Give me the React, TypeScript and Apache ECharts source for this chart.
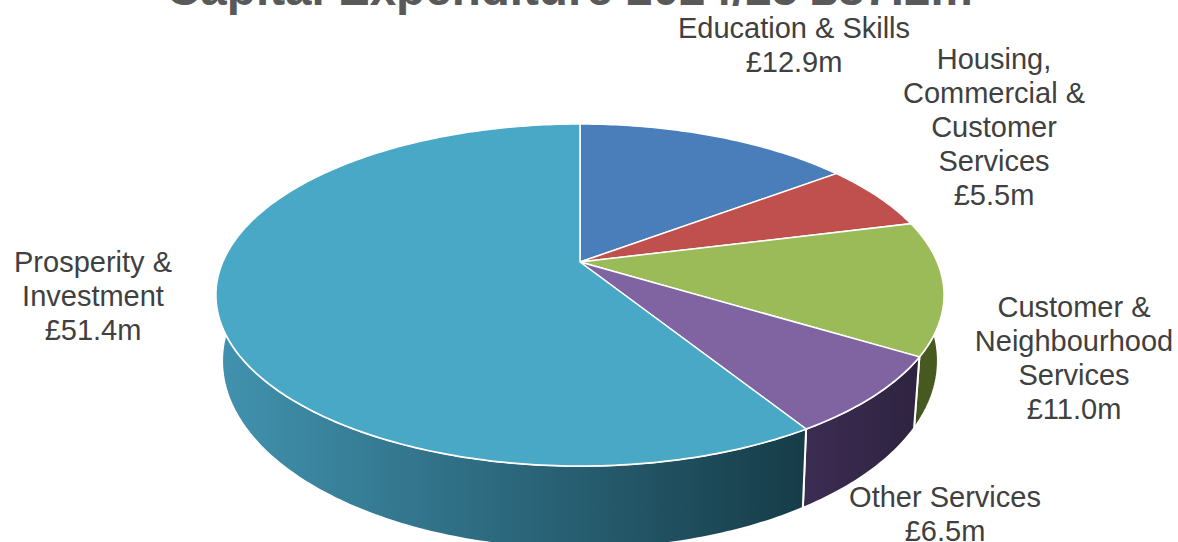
import React, { useEffect, useRef } from "react";
import * as echarts from "echarts";

const titleText = "Capital Expenditure 2024/25 £87.2m";
const categories = [
  "Education & Skills",
  "Housing,\nCommercial &\nCustomer\nServices",
  "Customer &\nNeighbourhood\nServices",
  "Other Services",
  "Prosperity &\nInvestment",
];
const values = [12.9, 5.5, 11.0, 6.5, 51.4];

const topColors = ["#4A7EBB", "#C0504D", "#9BBB59", "#8064A2", "#48A8C6"];
const sideStops: [string, string][] = [
  ["#2C4A70", "#2C4A70"],
  ["#722F2D", "#722F2D"],
  ["#46591F", "#333F18"],
  ["#3C2C52", "#2E2340"],
  ["#4192AF", "#163C48"],
];
const labelCenters = [
  [794, 45],
  [994, 127],
  [1074, 358],
  [945, 514],
  [93, 296],
];

// Perspective of the two faces of the disc: centre, half axes, foreshortening.
const topFace = { cx: 580, cy: 262, a: 357.2, b: 164.6, p: 0.193 };
const baseFace = { cx: 580, cy: 324, a: 351, b: 180.8, p: 0.196 };
type Face = typeof topFace;

const total = values.reduce((s, v) => s + v, 0);
const startFractions = values.map((_, i) =>
  values.slice(0, i).reduce((s, v) => s + v, 0) / total
);

function project(f: Face, angle: number): number[] {
  const u = Math.sin(angle);
  const v = -Math.cos(angle);
  const w = 1 - f.p * v;
  return [f.cx + (f.a * u) / w, f.cy + (f.b * v) / w];
}

function arc(f: Face, from: number, to: number): number[][] {
  const n = Math.max(4, Math.ceil(Math.abs(to - from) / 0.015));
  const pts: number[][] = [];
  for (let i = 0; i <= n; i++) pts.push(project(f, from + ((to - from) * i) / n));
  return pts;
}

function sliceAngles(i: number, value: number): [number, number] {
  const a0 = startFractions[i] * Math.PI * 2;
  return [a0, a0 + (value / total) * Math.PI * 2];
}

export default function App() {
  const ref = useRef<HTMLDivElement>(null);
  useEffect(() => {
    const chart = echarts.init(ref.current!, undefined, { renderer: "svg" });
    chart.setOption({
      animation: false,
      backgroundColor: "#ffffff",
      title: {
        text: titleText,
        left: 161,
        top: -41,
        textStyle: {
          fontFamily: "Liberation Sans",
          fontWeight: "bold",
          fontSize: 47.6,
          color: "#595959",
        },
      },
      series: [
        {
          type: "custom",
          coordinateSystem: "none",
          silent: true,
          z: 1,
          data: values,
          renderItem: (params: any, api: any) => {
            const i = params.dataIndex;
            const [a0, a1] = sliceAngles(i, api.value(0));
            const pts = [...arc(topFace, a0, a1), ...arc(baseFace, a1, a0)];
            return {
              type: "polygon",
              shape: { points: pts },
              style: {
                fill: new echarts.graphic.LinearGradient(
                  i === 4 ? 220 : project(topFace, a1)[0],
                  0,
                  i === 4 ? 805 : project(topFace, a0)[0],
                  0,
                  [
                    { offset: 0, color: sideStops[i][0] },
                    { offset: 1, color: sideStops[i][1] },
                  ],
                  true
                ),
                stroke: "#ffffff",
                lineWidth: 2,
              },
            };
          },
        },
        {
          type: "custom",
          coordinateSystem: "none",
          silent: true,
          z: 2,
          data: values,
          renderItem: (params: any, api: any) => {
            const i = params.dataIndex;
            const value = api.value(0);
            const [a0, a1] = sliceAngles(i, value);
            const pts = [[topFace.cx, topFace.cy], ...arc(topFace, a0, a1)];
            return {
              type: "group",
              children: [
                {
                  type: "polygon",
                  shape: { points: pts },
                  style: { fill: topColors[i], stroke: "#ffffff", lineWidth: 1.5 },
                },
                {
                  type: "text",
                  x: labelCenters[i][0],
                  y: labelCenters[i][1],
                  z2: 10,
                  style: {
                    text: `${categories[i]}\n£${value.toFixed(1)}m`,
                    fontFamily: "Liberation Sans",
                    fontSize: 29,
                    lineHeight: 34,
                    fill: "#404040",
                    align: "center",
                    verticalAlign: "middle",
                  },
                },
              ],
            };
          },
        },
      ],
    });
    return () => chart.dispose();
  }, []);
  return (
    <div
      ref={ref}
      style={{ position: "absolute", left: 0, top: 0, width: 1178, height: 542, overflow: "hidden" }}
    />
  );
}
